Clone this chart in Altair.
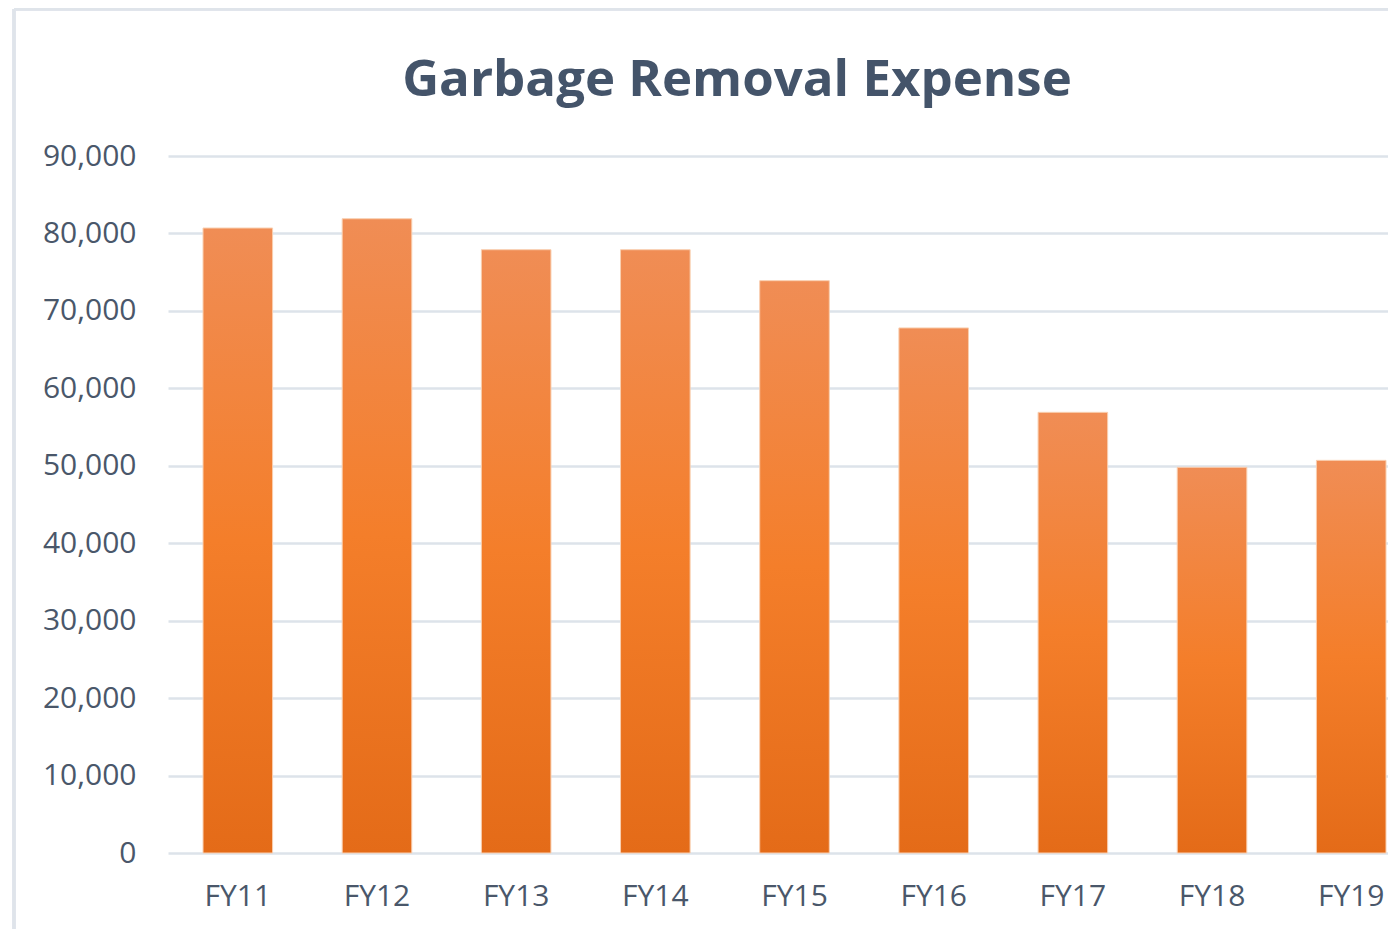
import altair as alt
import pandas as pd

years = ["FY11", "FY12", "FY13", "FY14", "FY15", "FY16", "FY17", "FY18", "FY19"]
expense = [80700, 81900, 77900, 77900, 73900, 67800, 56900, 49800, 50700]
y_ticks = [0, 10000, 20000, 30000, 40000, 50000, 60000, 70000, 80000, 90000]
title_text = ["Garbage Removal Expense"]

df = pd.DataFrame({"year": years, "expense": expense})
tdf = pd.DataFrame({"t": title_text})

FONT = "Open Sans"
TXT = "#4a576a"
GRID = "#dde3ea"

grad = alt.Gradient(
    gradient="linear",
    x1=0, y1=0, x2=0, y2=1,
    stops=[
        alt.GradientStop(color="#f08d55", offset=0),
        alt.GradientStop(color="#f47e2a", offset=0.5),
        alt.GradientStop(color="#e46b18", offset=1),
    ],
)

bars = alt.Chart(df).mark_bar(color=grad, stroke="#f9cfb0", strokeWidth=1).encode(
    x=alt.X(
        "year:N",
        sort=years,
        title=None,
        scale=alt.Scale(paddingInner=0.5, paddingOuter=0.133, align=0.946),
        axis=alt.Axis(
            labelAngle=0, ticks=False, domain=False, grid=False,
            labelFont=FONT, labelFontSize=30, labelColor=TXT,
            labelPadding=28, labelBaseline="top",
        ),
    ),
    y=alt.Y(
        "expense:Q",
        title=None,
        scale=alt.Scale(domain=[0, 90000], nice=False),
        axis=alt.Axis(
            values=y_ticks, format=",d", ticks=False, domain=False,
            grid=True, gridColor=GRID, gridWidth=2.5,
            labelFont=FONT, labelFontSize=30, labelColor=TXT,
            labelPadding=32,
        ),
    ),
)

border = alt.Chart(df).mark_rule(color="#dfe4ea", strokeWidth=2.5, clip=False).encode(
    x=alt.value(-154), y=alt.value(-147), y2=alt.value(780)
)
border_top = alt.Chart(df).mark_rule(color="#dfe4ea", strokeWidth=2.5, clip=False).encode(
    x=alt.value(-154), x2=alt.value(1230), y=alt.value(-147)
)
title = alt.Chart(tdf).mark_text(
    font=FONT, fontSize=51, fontWeight="bold", color="#44546a",
    align="center", baseline="alphabetic", clip=False,
).encode(text="t:N", x=alt.value(569), y=alt.value(-60))

chart = (
    alt.layer(border, border_top, title, bars)
    .properties(
        width=1220,
        height=697,
        background="white",
        padding={"left": 160, "top": 148, "right": 0, "bottom": 76},
        autosize=alt.AutoSizeParams(type="none"),
    )
    .configure_view(strokeWidth=0)
    .configure_axis(domain=False)
)

chart.save("out.html", embed_options={"renderer": "svg", "actions": False})
